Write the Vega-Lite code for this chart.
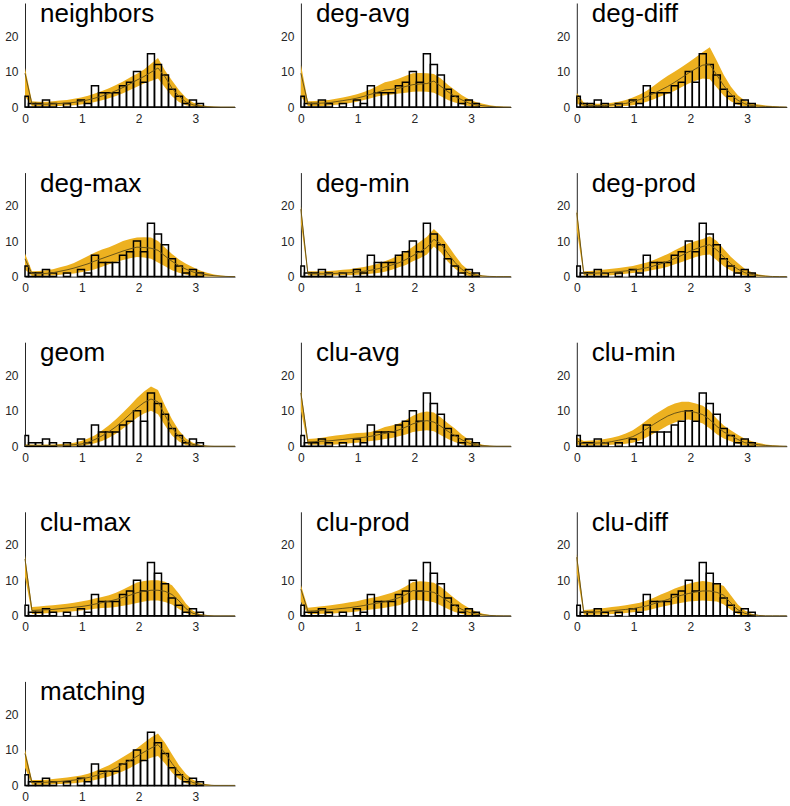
{
"$schema":"https://vega.github.io/schema/vega-lite/v6.json",
"padding":{"left":4,"top":1,"right":5,"bottom":2},
"columns":3,
"spacing":{"row":65.6,"column":65.9},
"bounds":"flush",
"datasets":{
"hist":[{"b0":0,"b1":0.062,"c":3},{"b0":0.062,"b1":0.185,"c":1},{"b0":0.185,"b1":0.308,"c":1},{"b0":0.308,"b1":0.432,"c":2},{"b0":0.432,"b1":0.555,"c":1},{"b0":0.678,"b1":0.801,"c":1},{"b0":0.925,"b1":1.048,"c":2},{"b0":1.048,"b1":1.171,"c":1},{"b0":1.171,"b1":1.295,"c":6},{"b0":1.295,"b1":1.418,"c":4},{"b0":1.418,"b1":1.541,"c":4},{"b0":1.541,"b1":1.665,"c":4},{"b0":1.665,"b1":1.788,"c":6},{"b0":1.788,"b1":1.911,"c":7},{"b0":1.911,"b1":2.035,"c":10},{"b0":2.035,"b1":2.158,"c":7},{"b0":2.158,"b1":2.281,"c":15},{"b0":2.281,"b1":2.405,"c":12},{"b0":2.405,"b1":2.528,"c":9},{"b0":2.528,"b1":2.651,"c":5},{"b0":2.651,"b1":2.774,"c":3},{"b0":2.774,"b1":2.898,"c":1},{"b0":2.898,"b1":3.021,"c":2},{"b0":3.021,"b1":3.144,"c":1}],
"band":[
{"p":"neighbors","x":0,"lo":3,"hi":11,"m":9.5},{"p":"neighbors","x":0.123,"lo":0.2,"hi":1.6,"m":0.8},{"p":"neighbors","x":0.247,"lo":0.2,"hi":1.5,"m":0.8},{"p":"neighbors","x":0.37,"lo":0.2,"hi":1.5,"m":0.8},{"p":"neighbors","x":0.493,"lo":0.3,"hi":1.6,"m":0.9},{"p":"neighbors","x":0.617,"lo":0.3,"hi":1.8,"m":1.0},{"p":"neighbors","x":0.74,"lo":0.4,"hi":2.0,"m":1.1},{"p":"neighbors","x":0.863,"lo":0.5,"hi":2.3,"m":1.3},{"p":"neighbors","x":0.987,"lo":0.7,"hi":2.7,"m":1.6},{"p":"neighbors","x":1.11,"lo":1.0,"hi":3.2,"m":2.0},{"p":"neighbors","x":1.233,"lo":1.4,"hi":3.8,"m":2.5},{"p":"neighbors","x":1.357,"lo":1.9,"hi":4.5,"m":3.1},{"p":"neighbors","x":1.48,"lo":2.5,"hi":5.3,"m":3.8},{"p":"neighbors","x":1.603,"lo":3.1,"hi":6.2,"m":4.6},{"p":"neighbors","x":1.727,"lo":3.9,"hi":7.2,"m":5.5},{"p":"neighbors","x":1.85,"lo":4.8,"hi":8.3,"m":6.5},{"p":"neighbors","x":1.973,"lo":5.7,"hi":9.4,"m":7.6},{"p":"neighbors","x":2.097,"lo":6.6,"hi":10.6,"m":8.6},{"p":"neighbors","x":2.22,"lo":7.3,"hi":12.2,"m":9.8},{"p":"neighbors","x":2.343,"lo":8.0,"hi":13.8,"m":11.0},{"p":"neighbors","x":2.467,"lo":5.5,"hi":10.3,"m":8.5},{"p":"neighbors","x":2.59,"lo":3.0,"hi":7.5,"m":5.3},{"p":"neighbors","x":2.713,"lo":1.4,"hi":4.8,"m":3.0},{"p":"neighbors","x":2.837,"lo":0.5,"hi":2.6,"m":1.4},{"p":"neighbors","x":2.96,"lo":0.1,"hi":1.3,"m":0.6},{"p":"neighbors","x":3.083,"lo":0,"hi":0.6,"m":0.25},{"p":"neighbors","x":3.207,"lo":0,"hi":0.3,"m":0.1},{"p":"neighbors","x":3.33,"lo":0,"hi":0.1,"m":0.03},{"p":"neighbors","x":3.453,"lo":0,"hi":0,"m":0},{"p":"neighbors","x":3.577,"lo":0,"hi":0,"m":0},{"p":"neighbors","x":3.7,"lo":0,"hi":0,"m":0},
{"p":"deg-avg","x":0,"lo":3,"hi":12,"m":9.5},{"p":"deg-avg","x":0.123,"lo":0.3,"hi":1.6,"m":1.0},{"p":"deg-avg","x":0.247,"lo":0.3,"hi":1.7,"m":1.0},{"p":"deg-avg","x":0.37,"lo":0.3,"hi":1.8,"m":1.1},{"p":"deg-avg","x":0.493,"lo":0.4,"hi":2.0,"m":1.2},{"p":"deg-avg","x":0.617,"lo":0.6,"hi":2.3,"m":1.5},{"p":"deg-avg","x":0.74,"lo":0.8,"hi":2.7,"m":1.8},{"p":"deg-avg","x":0.863,"lo":1.1,"hi":3.1,"m":2.1},{"p":"deg-avg","x":0.987,"lo":1.5,"hi":3.6,"m":2.5},{"p":"deg-avg","x":1.11,"lo":2.0,"hi":4.2,"m":3.0},{"p":"deg-avg","x":1.233,"lo":2.5,"hi":5.0,"m":3.6},{"p":"deg-avg","x":1.357,"lo":3.0,"hi":6.0,"m":4.2},{"p":"deg-avg","x":1.48,"lo":3.3,"hi":7.0,"m":4.8},{"p":"deg-avg","x":1.603,"lo":3.5,"hi":7.4,"m":5.0},{"p":"deg-avg","x":1.727,"lo":3.8,"hi":8.0,"m":5.3},{"p":"deg-avg","x":1.85,"lo":4.0,"hi":8.8,"m":5.8},{"p":"deg-avg","x":1.973,"lo":4.3,"hi":9.5,"m":6.3},{"p":"deg-avg","x":2.097,"lo":4.4,"hi":9.6,"m":6.5},{"p":"deg-avg","x":2.22,"lo":4.3,"hi":9.5,"m":6.6},{"p":"deg-avg","x":2.343,"lo":4.0,"hi":9.3,"m":7.3},{"p":"deg-avg","x":2.467,"lo":3.0,"hi":8.0,"m":5.8},{"p":"deg-avg","x":2.59,"lo":2.0,"hi":6.3,"m":4.3},{"p":"deg-avg","x":2.713,"lo":1.3,"hi":4.8,"m":3.0},{"p":"deg-avg","x":2.837,"lo":0.7,"hi":3.3,"m":2.0},{"p":"deg-avg","x":2.96,"lo":0.3,"hi":2.2,"m":1.1},{"p":"deg-avg","x":3.083,"lo":0.1,"hi":1.4,"m":0.6},{"p":"deg-avg","x":3.207,"lo":0,"hi":0.9,"m":0.35},{"p":"deg-avg","x":3.33,"lo":0,"hi":0.5,"m":0.15},{"p":"deg-avg","x":3.453,"lo":0,"hi":0.2,"m":0.05},{"p":"deg-avg","x":3.577,"lo":0,"hi":0.05,"m":0},{"p":"deg-avg","x":3.7,"lo":0,"hi":0,"m":0},
{"p":"deg-diff","x":0,"lo":1,"hi":4,"m":3},{"p":"deg-diff","x":0.123,"lo":0.1,"hi":1.3,"m":0.5},{"p":"deg-diff","x":0.247,"lo":0.1,"hi":1.0,"m":0.4},{"p":"deg-diff","x":0.37,"lo":0.1,"hi":0.9,"m":0.4},{"p":"deg-diff","x":0.493,"lo":0.1,"hi":1.0,"m":0.4},{"p":"deg-diff","x":0.617,"lo":0.1,"hi":1.2,"m":0.6},{"p":"deg-diff","x":0.74,"lo":0.2,"hi":1.5,"m":0.8},{"p":"deg-diff","x":0.863,"lo":0.3,"hi":2.0,"m":1.0},{"p":"deg-diff","x":0.987,"lo":0.5,"hi":2.7,"m":1.5},{"p":"deg-diff","x":1.11,"lo":0.9,"hi":3.5,"m":2.1},{"p":"deg-diff","x":1.233,"lo":1.5,"hi":4.6,"m":2.9},{"p":"deg-diff","x":1.357,"lo":2.2,"hi":6.0,"m":3.8},{"p":"deg-diff","x":1.48,"lo":3.0,"hi":7.5,"m":4.8},{"p":"deg-diff","x":1.603,"lo":3.7,"hi":8.8,"m":5.8},{"p":"deg-diff","x":1.727,"lo":4.6,"hi":10.0,"m":7.0},{"p":"deg-diff","x":1.85,"lo":5.6,"hi":11.3,"m":8.3},{"p":"deg-diff","x":1.973,"lo":6.6,"hi":12.6,"m":9.6},{"p":"deg-diff","x":2.097,"lo":7.4,"hi":14.0,"m":10.8},{"p":"deg-diff","x":2.22,"lo":8.0,"hi":15.5,"m":11.8},{"p":"deg-diff","x":2.343,"lo":7.8,"hi":16.8,"m":12.0},{"p":"deg-diff","x":2.467,"lo":5.5,"hi":13.0,"m":9.0},{"p":"deg-diff","x":2.59,"lo":3.2,"hi":9.0,"m":6.0},{"p":"deg-diff","x":2.713,"lo":1.6,"hi":5.8,"m":3.6},{"p":"deg-diff","x":2.837,"lo":0.6,"hi":3.3,"m":1.9},{"p":"deg-diff","x":2.96,"lo":0.2,"hi":1.8,"m":0.9},{"p":"deg-diff","x":3.083,"lo":0.1,"hi":1.0,"m":0.4},{"p":"deg-diff","x":3.207,"lo":0,"hi":0.7,"m":0.25},{"p":"deg-diff","x":3.33,"lo":0,"hi":0.4,"m":0.15},{"p":"deg-diff","x":3.453,"lo":0,"hi":0.25,"m":0.08},{"p":"deg-diff","x":3.577,"lo":0,"hi":0.1,"m":0.03},{"p":"deg-diff","x":3.7,"lo":0,"hi":0,"m":0},
{"p":"deg-max","x":0,"lo":2,"hi":6.5,"m":5},{"p":"deg-max","x":0.123,"lo":0.2,"hi":1.5,"m":0.8},{"p":"deg-max","x":0.247,"lo":0.2,"hi":1.6,"m":0.8},{"p":"deg-max","x":0.37,"lo":0.3,"hi":1.8,"m":0.9},{"p":"deg-max","x":0.493,"lo":0.3,"hi":2.1,"m":1.1},{"p":"deg-max","x":0.617,"lo":0.5,"hi":2.6,"m":1.5},{"p":"deg-max","x":0.74,"lo":0.7,"hi":3.1,"m":1.9},{"p":"deg-max","x":0.863,"lo":0.9,"hi":3.8,"m":2.4},{"p":"deg-max","x":0.987,"lo":1.2,"hi":4.8,"m":3.0},{"p":"deg-max","x":1.11,"lo":1.6,"hi":5.8,"m":3.6},{"p":"deg-max","x":1.233,"lo":2.1,"hi":6.8,"m":4.4},{"p":"deg-max","x":1.357,"lo":2.8,"hi":7.6,"m":5.1},{"p":"deg-max","x":1.48,"lo":3.5,"hi":8.3,"m":5.8},{"p":"deg-max","x":1.603,"lo":4.1,"hi":9.1,"m":6.5},{"p":"deg-max","x":1.727,"lo":4.7,"hi":10.0,"m":7.2},{"p":"deg-max","x":1.85,"lo":5.2,"hi":10.6,"m":7.8},{"p":"deg-max","x":1.973,"lo":5.5,"hi":11.0,"m":8.3},{"p":"deg-max","x":2.097,"lo":5.4,"hi":11.1,"m":8.2},{"p":"deg-max","x":2.22,"lo":5.0,"hi":11.0,"m":8.0},{"p":"deg-max","x":2.343,"lo":4.0,"hi":10.0,"m":7.4},{"p":"deg-max","x":2.467,"lo":2.9,"hi":8.2,"m":5.8},{"p":"deg-max","x":2.59,"lo":1.8,"hi":6.4,"m":4.3},{"p":"deg-max","x":2.713,"lo":1.1,"hi":4.8,"m":3.1},{"p":"deg-max","x":2.837,"lo":0.5,"hi":3.6,"m":2.1},{"p":"deg-max","x":2.96,"lo":0.2,"hi":2.6,"m":1.3},{"p":"deg-max","x":3.083,"lo":0.1,"hi":1.7,"m":0.8},{"p":"deg-max","x":3.207,"lo":0,"hi":1.1,"m":0.5},{"p":"deg-max","x":3.33,"lo":0,"hi":0.6,"m":0.25},{"p":"deg-max","x":3.453,"lo":0,"hi":0.3,"m":0.1},{"p":"deg-max","x":3.577,"lo":0,"hi":0.1,"m":0.03},{"p":"deg-max","x":3.7,"lo":0,"hi":0,"m":0},
{"p":"deg-min","x":0,"lo":15,"hi":20,"m":19},{"p":"deg-min","x":0.123,"lo":0.3,"hi":1.5,"m":0.8},{"p":"deg-min","x":0.247,"lo":0.3,"hi":1.5,"m":0.8},{"p":"deg-min","x":0.37,"lo":0.3,"hi":1.5,"m":0.8},{"p":"deg-min","x":0.493,"lo":0.3,"hi":1.6,"m":0.8},{"p":"deg-min","x":0.617,"lo":0.3,"hi":1.7,"m":0.9},{"p":"deg-min","x":0.74,"lo":0.4,"hi":1.9,"m":1.0},{"p":"deg-min","x":0.863,"lo":0.4,"hi":2.1,"m":1.1},{"p":"deg-min","x":0.987,"lo":0.5,"hi":2.4,"m":1.3},{"p":"deg-min","x":1.11,"lo":0.6,"hi":2.7,"m":1.5},{"p":"deg-min","x":1.233,"lo":0.8,"hi":3.1,"m":1.8},{"p":"deg-min","x":1.357,"lo":1.0,"hi":3.6,"m":2.2},{"p":"deg-min","x":1.48,"lo":1.4,"hi":4.3,"m":2.7},{"p":"deg-min","x":1.603,"lo":1.9,"hi":5.1,"m":3.3},{"p":"deg-min","x":1.727,"lo":2.6,"hi":6.0,"m":3.9},{"p":"deg-min","x":1.85,"lo":3.3,"hi":7.1,"m":4.8},{"p":"deg-min","x":1.973,"lo":4.3,"hi":8.4,"m":5.9},{"p":"deg-min","x":2.097,"lo":5.2,"hi":9.8,"m":7.0},{"p":"deg-min","x":2.22,"lo":6.2,"hi":11.2,"m":8.2},{"p":"deg-min","x":2.343,"lo":8.5,"hi":13.4,"m":10.5},{"p":"deg-min","x":2.467,"lo":6.8,"hi":11.5,"m":9.2},{"p":"deg-min","x":2.59,"lo":4.2,"hi":8.8,"m":6.5},{"p":"deg-min","x":2.713,"lo":2.3,"hi":6.0,"m":4.0},{"p":"deg-min","x":2.837,"lo":0.8,"hi":3.4,"m":2.0},{"p":"deg-min","x":2.96,"lo":0.2,"hi":1.7,"m":0.9},{"p":"deg-min","x":3.083,"lo":0.05,"hi":0.8,"m":0.4},{"p":"deg-min","x":3.207,"lo":0,"hi":0.3,"m":0.15},{"p":"deg-min","x":3.33,"lo":0,"hi":0.1,"m":0.05},{"p":"deg-min","x":3.453,"lo":0,"hi":0,"m":0},{"p":"deg-min","x":3.577,"lo":0,"hi":0,"m":0},{"p":"deg-min","x":3.7,"lo":0,"hi":0,"m":0},
{"p":"deg-prod","x":0,"lo":13,"hi":19,"m":18},{"p":"deg-prod","x":0.123,"lo":0.3,"hi":1.5,"m":0.8},{"p":"deg-prod","x":0.247,"lo":0.3,"hi":1.6,"m":0.9},{"p":"deg-prod","x":0.37,"lo":0.3,"hi":1.8,"m":1.0},{"p":"deg-prod","x":0.493,"lo":0.3,"hi":2.0,"m":1.1},{"p":"deg-prod","x":0.617,"lo":0.4,"hi":2.2,"m":1.2},{"p":"deg-prod","x":0.74,"lo":0.6,"hi":2.4,"m":1.4},{"p":"deg-prod","x":0.863,"lo":0.8,"hi":2.7,"m":1.6},{"p":"deg-prod","x":0.987,"lo":1.0,"hi":3.0,"m":1.8},{"p":"deg-prod","x":1.11,"lo":1.2,"hi":3.5,"m":2.1},{"p":"deg-prod","x":1.233,"lo":1.5,"hi":4.0,"m":2.5},{"p":"deg-prod","x":1.357,"lo":1.9,"hi":4.7,"m":3.0},{"p":"deg-prod","x":1.48,"lo":2.3,"hi":5.5,"m":3.6},{"p":"deg-prod","x":1.603,"lo":2.8,"hi":6.4,"m":4.3},{"p":"deg-prod","x":1.727,"lo":3.5,"hi":7.4,"m":5.1},{"p":"deg-prod","x":1.85,"lo":4.1,"hi":8.4,"m":6.0},{"p":"deg-prod","x":1.973,"lo":4.8,"hi":9.4,"m":7.0},{"p":"deg-prod","x":2.097,"lo":5.5,"hi":10.0,"m":7.8},{"p":"deg-prod","x":2.22,"lo":6.0,"hi":10.6,"m":8.5},{"p":"deg-prod","x":2.343,"lo":6.2,"hi":11.4,"m":9.0},{"p":"deg-prod","x":2.467,"lo":4.6,"hi":10.0,"m":7.5},{"p":"deg-prod","x":2.59,"lo":2.9,"hi":7.8,"m":5.5},{"p":"deg-prod","x":2.713,"lo":1.7,"hi":5.6,"m":3.6},{"p":"deg-prod","x":2.837,"lo":0.8,"hi":3.8,"m":2.1},{"p":"deg-prod","x":2.96,"lo":0.3,"hi":2.2,"m":1.1},{"p":"deg-prod","x":3.083,"lo":0.1,"hi":1.2,"m":0.6},{"p":"deg-prod","x":3.207,"lo":0,"hi":0.6,"m":0.3},{"p":"deg-prod","x":3.33,"lo":0,"hi":0.3,"m":0.1},{"p":"deg-prod","x":3.453,"lo":0,"hi":0.1,"m":0.03},{"p":"deg-prod","x":3.577,"lo":0,"hi":0,"m":0},{"p":"deg-prod","x":3.7,"lo":0,"hi":0,"m":0},
{"p":"geom","x":0,"lo":0,"hi":0.5,"m":0.25},{"p":"geom","x":0.123,"lo":0,"hi":0.5,"m":0.2},{"p":"geom","x":0.247,"lo":0,"hi":0.5,"m":0.2},{"p":"geom","x":0.37,"lo":0,"hi":0.5,"m":0.2},{"p":"geom","x":0.493,"lo":0,"hi":0.5,"m":0.2},{"p":"geom","x":0.617,"lo":0,"hi":0.6,"m":0.25},{"p":"geom","x":0.74,"lo":0,"hi":0.7,"m":0.3},{"p":"geom","x":0.863,"lo":0.05,"hi":1.0,"m":0.4},{"p":"geom","x":0.987,"lo":0.1,"hi":1.5,"m":0.6},{"p":"geom","x":1.11,"lo":0.4,"hi":2.2,"m":1.1},{"p":"geom","x":1.233,"lo":0.8,"hi":3.1,"m":1.9},{"p":"geom","x":1.357,"lo":1.5,"hi":4.4,"m":2.9},{"p":"geom","x":1.48,"lo":2.4,"hi":5.9,"m":4.1},{"p":"geom","x":1.603,"lo":3.5,"hi":7.6,"m":5.5},{"p":"geom","x":1.727,"lo":5.0,"hi":9.5,"m":7.2},{"p":"geom","x":1.85,"lo":6.5,"hi":11.5,"m":9.0},{"p":"geom","x":1.973,"lo":8.0,"hi":13.6,"m":10.8},{"p":"geom","x":2.097,"lo":9.2,"hi":15.4,"m":12.3},{"p":"geom","x":2.22,"lo":10.0,"hi":16.8,"m":13.3},{"p":"geom","x":2.343,"lo":9.0,"hi":15.8,"m":12.5},{"p":"geom","x":2.467,"lo":5.8,"hi":11.5,"m":8.7},{"p":"geom","x":2.59,"lo":3.0,"hi":7.6,"m":5.2},{"p":"geom","x":2.713,"lo":1.3,"hi":4.4,"m":2.7},{"p":"geom","x":2.837,"lo":0.3,"hi":2.2,"m":1.2},{"p":"geom","x":2.96,"lo":0.05,"hi":1.0,"m":0.5},{"p":"geom","x":3.083,"lo":0,"hi":0.4,"m":0.2},{"p":"geom","x":3.207,"lo":0,"hi":0.15,"m":0.05},{"p":"geom","x":3.33,"lo":0,"hi":0,"m":0},{"p":"geom","x":3.453,"lo":0,"hi":0,"m":0},{"p":"geom","x":3.577,"lo":0,"hi":0,"m":0},{"p":"geom","x":3.7,"lo":0,"hi":0,"m":0},
{"p":"clu-avg","x":0,"lo":10,"hi":16,"m":15},{"p":"clu-avg","x":0.123,"lo":0.4,"hi":2.0,"m":1.2},{"p":"clu-avg","x":0.247,"lo":0.4,"hi":2.2,"m":1.3},{"p":"clu-avg","x":0.37,"lo":0.4,"hi":2.4,"m":1.4},{"p":"clu-avg","x":0.493,"lo":0.4,"hi":2.7,"m":1.5},{"p":"clu-avg","x":0.617,"lo":0.5,"hi":3.0,"m":1.7},{"p":"clu-avg","x":0.74,"lo":0.6,"hi":3.2,"m":1.9},{"p":"clu-avg","x":0.863,"lo":0.8,"hi":3.5,"m":2.1},{"p":"clu-avg","x":0.987,"lo":1.0,"hi":3.7,"m":2.3},{"p":"clu-avg","x":1.11,"lo":1.2,"hi":3.8,"m":2.5},{"p":"clu-avg","x":1.233,"lo":1.5,"hi":4.0,"m":2.8},{"p":"clu-avg","x":1.357,"lo":1.7,"hi":4.6,"m":3.2},{"p":"clu-avg","x":1.48,"lo":2.0,"hi":5.4,"m":3.6},{"p":"clu-avg","x":1.603,"lo":2.3,"hi":5.8,"m":4.0},{"p":"clu-avg","x":1.727,"lo":2.8,"hi":6.4,"m":4.6},{"p":"clu-avg","x":1.85,"lo":3.3,"hi":7.4,"m":5.4},{"p":"clu-avg","x":1.973,"lo":4.0,"hi":8.6,"m":6.3},{"p":"clu-avg","x":2.097,"lo":4.3,"hi":9.4,"m":6.9},{"p":"clu-avg","x":2.22,"lo":4.5,"hi":9.8,"m":7.2},{"p":"clu-avg","x":2.343,"lo":4.2,"hi":9.5,"m":6.8},{"p":"clu-avg","x":2.467,"lo":3.1,"hi":8.1,"m":5.6},{"p":"clu-avg","x":2.59,"lo":2.0,"hi":6.5,"m":4.2},{"p":"clu-avg","x":2.713,"lo":1.2,"hi":5.0,"m":3.0},{"p":"clu-avg","x":2.837,"lo":0.5,"hi":3.2,"m":1.8},{"p":"clu-avg","x":2.96,"lo":0.1,"hi":1.8,"m":0.9},{"p":"clu-avg","x":3.083,"lo":0,"hi":0.9,"m":0.4},{"p":"clu-avg","x":3.207,"lo":0,"hi":0.4,"m":0.15},{"p":"clu-avg","x":3.33,"lo":0,"hi":0.1,"m":0.05},{"p":"clu-avg","x":3.453,"lo":0,"hi":0,"m":0},{"p":"clu-avg","x":3.577,"lo":0,"hi":0,"m":0},{"p":"clu-avg","x":3.7,"lo":0,"hi":0,"m":0},
{"p":"clu-min","x":0,"lo":0.5,"hi":2.5,"m":1.5},{"p":"clu-min","x":0.123,"lo":0.2,"hi":1.5,"m":0.8},{"p":"clu-min","x":0.247,"lo":0.2,"hi":1.6,"m":0.8},{"p":"clu-min","x":0.37,"lo":0.2,"hi":1.7,"m":0.9},{"p":"clu-min","x":0.493,"lo":0.3,"hi":2.0,"m":1.0},{"p":"clu-min","x":0.617,"lo":0.4,"hi":2.4,"m":1.3},{"p":"clu-min","x":0.74,"lo":0.5,"hi":2.9,"m":1.7},{"p":"clu-min","x":0.863,"lo":0.7,"hi":3.6,"m":2.1},{"p":"clu-min","x":0.987,"lo":1.0,"hi":4.5,"m":2.7},{"p":"clu-min","x":1.11,"lo":1.6,"hi":5.8,"m":3.7},{"p":"clu-min","x":1.233,"lo":2.5,"hi":7.3,"m":4.9},{"p":"clu-min","x":1.357,"lo":3.6,"hi":8.8,"m":6.2},{"p":"clu-min","x":1.48,"lo":4.7,"hi":10.0,"m":7.4},{"p":"clu-min","x":1.603,"lo":5.8,"hi":11.2,"m":8.5},{"p":"clu-min","x":1.727,"lo":6.7,"hi":12.0,"m":9.3},{"p":"clu-min","x":1.85,"lo":7.3,"hi":12.5,"m":9.8},{"p":"clu-min","x":1.973,"lo":7.5,"hi":12.5,"m":10.0},{"p":"clu-min","x":2.097,"lo":7.0,"hi":12.0,"m":9.5},{"p":"clu-min","x":2.22,"lo":6.4,"hi":11.4,"m":8.9},{"p":"clu-min","x":2.343,"lo":5.0,"hi":10.0,"m":7.5},{"p":"clu-min","x":2.467,"lo":3.4,"hi":7.7,"m":5.6},{"p":"clu-min","x":2.59,"lo":2.2,"hi":5.8,"m":4.0},{"p":"clu-min","x":2.713,"lo":1.4,"hi":4.5,"m":3.0},{"p":"clu-min","x":2.837,"lo":0.7,"hi":3.2,"m":1.9},{"p":"clu-min","x":2.96,"lo":0.2,"hi":2.1,"m":1.0},{"p":"clu-min","x":3.083,"lo":0.05,"hi":1.4,"m":0.6},{"p":"clu-min","x":3.207,"lo":0,"hi":0.9,"m":0.4},{"p":"clu-min","x":3.33,"lo":0,"hi":0.5,"m":0.2},{"p":"clu-min","x":3.453,"lo":0,"hi":0.25,"m":0.08},{"p":"clu-min","x":3.577,"lo":0,"hi":0.1,"m":0.02},{"p":"clu-min","x":3.7,"lo":0,"hi":0,"m":0},
{"p":"clu-max","x":0,"lo":11,"hi":17,"m":16},{"p":"clu-max","x":0.123,"lo":0.5,"hi":2.5,"m":1.5},{"p":"clu-max","x":0.247,"lo":0.6,"hi":2.6,"m":1.6},{"p":"clu-max","x":0.37,"lo":0.7,"hi":2.8,"m":1.7},{"p":"clu-max","x":0.493,"lo":0.8,"hi":3.0,"m":1.8},{"p":"clu-max","x":0.617,"lo":1.0,"hi":3.2,"m":2.0},{"p":"clu-max","x":0.74,"lo":1.1,"hi":3.4,"m":2.2},{"p":"clu-max","x":0.863,"lo":1.3,"hi":3.7,"m":2.4},{"p":"clu-max","x":0.987,"lo":1.5,"hi":4.0,"m":2.6},{"p":"clu-max","x":1.11,"lo":1.7,"hi":4.4,"m":2.9},{"p":"clu-max","x":1.233,"lo":2.0,"hi":4.9,"m":3.3},{"p":"clu-max","x":1.357,"lo":2.2,"hi":5.3,"m":3.7},{"p":"clu-max","x":1.48,"lo":2.3,"hi":5.8,"m":4.1},{"p":"clu-max","x":1.603,"lo":2.5,"hi":6.5,"m":4.6},{"p":"clu-max","x":1.727,"lo":2.8,"hi":7.4,"m":5.2},{"p":"clu-max","x":1.85,"lo":3.2,"hi":8.4,"m":5.8},{"p":"clu-max","x":1.973,"lo":3.6,"hi":9.4,"m":6.5},{"p":"clu-max","x":2.097,"lo":4.0,"hi":9.8,"m":6.9},{"p":"clu-max","x":2.22,"lo":4.3,"hi":10.0,"m":7.2},{"p":"clu-max","x":2.343,"lo":4.3,"hi":10.0,"m":7.2},{"p":"clu-max","x":2.467,"lo":3.9,"hi":9.6,"m":6.9},{"p":"clu-max","x":2.59,"lo":3.2,"hi":8.6,"m":6.0},{"p":"clu-max","x":2.713,"lo":1.9,"hi":6.2,"m":4.2},{"p":"clu-max","x":2.837,"lo":0.7,"hi":3.4,"m":2.0},{"p":"clu-max","x":2.96,"lo":0.15,"hi":1.4,"m":0.7},{"p":"clu-max","x":3.083,"lo":0,"hi":0.5,"m":0.25},{"p":"clu-max","x":3.207,"lo":0,"hi":0.2,"m":0.08},{"p":"clu-max","x":3.33,"lo":0,"hi":0,"m":0},{"p":"clu-max","x":3.453,"lo":0,"hi":0,"m":0},{"p":"clu-max","x":3.577,"lo":0,"hi":0,"m":0},{"p":"clu-max","x":3.7,"lo":0,"hi":0,"m":0},
{"p":"clu-prod","x":0,"lo":4,"hi":8.7,"m":7.5},{"p":"clu-prod","x":0.123,"lo":0.5,"hi":2.3,"m":1.3},{"p":"clu-prod","x":0.247,"lo":0.5,"hi":2.5,"m":1.4},{"p":"clu-prod","x":0.37,"lo":0.6,"hi":2.7,"m":1.6},{"p":"clu-prod","x":0.493,"lo":0.6,"hi":2.9,"m":1.7},{"p":"clu-prod","x":0.617,"lo":0.7,"hi":3.2,"m":1.9},{"p":"clu-prod","x":0.74,"lo":0.9,"hi":3.5,"m":2.1},{"p":"clu-prod","x":0.863,"lo":1.0,"hi":3.8,"m":2.3},{"p":"clu-prod","x":0.987,"lo":1.2,"hi":4.1,"m":2.6},{"p":"clu-prod","x":1.11,"lo":1.5,"hi":4.6,"m":2.9},{"p":"clu-prod","x":1.233,"lo":1.8,"hi":5.0,"m":3.3},{"p":"clu-prod","x":1.357,"lo":2.0,"hi":5.4,"m":3.6},{"p":"clu-prod","x":1.48,"lo":2.3,"hi":5.9,"m":4.0},{"p":"clu-prod","x":1.603,"lo":2.6,"hi":6.5,"m":4.5},{"p":"clu-prod","x":1.727,"lo":3.0,"hi":7.3,"m":5.1},{"p":"clu-prod","x":1.85,"lo":3.7,"hi":8.3,"m":6.0},{"p":"clu-prod","x":1.973,"lo":4.5,"hi":9.5,"m":7.1},{"p":"clu-prod","x":2.097,"lo":4.4,"hi":9.7,"m":7.0},{"p":"clu-prod","x":2.22,"lo":4.2,"hi":9.6,"m":6.9},{"p":"clu-prod","x":2.343,"lo":3.8,"hi":9.3,"m":6.6},{"p":"clu-prod","x":2.467,"lo":2.9,"hi":8.1,"m":5.4},{"p":"clu-prod","x":2.59,"lo":1.9,"hi":6.5,"m":4.1},{"p":"clu-prod","x":2.713,"lo":1.1,"hi":4.9,"m":2.9},{"p":"clu-prod","x":2.837,"lo":0.5,"hi":3.4,"m":1.8},{"p":"clu-prod","x":2.96,"lo":0.15,"hi":2.2,"m":1.0},{"p":"clu-prod","x":3.083,"lo":0.05,"hi":1.2,"m":0.5},{"p":"clu-prod","x":3.207,"lo":0,"hi":0.6,"m":0.25},{"p":"clu-prod","x":3.33,"lo":0,"hi":0.25,"m":0.1},{"p":"clu-prod","x":3.453,"lo":0,"hi":0.05,"m":0.02},{"p":"clu-prod","x":3.577,"lo":0,"hi":0,"m":0},{"p":"clu-prod","x":3.7,"lo":0,"hi":0,"m":0},
{"p":"clu-diff","x":0,"lo":12,"hi":17.5,"m":16.5},{"p":"clu-diff","x":0.123,"lo":0.3,"hi":1.6,"m":0.9},{"p":"clu-diff","x":0.247,"lo":0.3,"hi":1.8,"m":1.0},{"p":"clu-diff","x":0.37,"lo":0.3,"hi":2.0,"m":1.1},{"p":"clu-diff","x":0.493,"lo":0.4,"hi":2.2,"m":1.2},{"p":"clu-diff","x":0.617,"lo":0.5,"hi":2.5,"m":1.4},{"p":"clu-diff","x":0.74,"lo":0.6,"hi":2.7,"m":1.6},{"p":"clu-diff","x":0.863,"lo":0.8,"hi":3.0,"m":1.8},{"p":"clu-diff","x":0.987,"lo":1.0,"hi":3.3,"m":2.0},{"p":"clu-diff","x":1.11,"lo":1.2,"hi":3.7,"m":2.4},{"p":"clu-diff","x":1.233,"lo":1.5,"hi":4.3,"m":2.8},{"p":"clu-diff","x":1.357,"lo":2.0,"hi":5.1,"m":3.4},{"p":"clu-diff","x":1.48,"lo":2.5,"hi":6.0,"m":4.0},{"p":"clu-diff","x":1.603,"lo":2.9,"hi":6.8,"m":4.6},{"p":"clu-diff","x":1.727,"lo":3.3,"hi":7.7,"m":5.3},{"p":"clu-diff","x":1.85,"lo":3.7,"hi":8.4,"m":5.8},{"p":"clu-diff","x":1.973,"lo":4.0,"hi":9.0,"m":6.3},{"p":"clu-diff","x":2.097,"lo":4.2,"hi":9.5,"m":6.7},{"p":"clu-diff","x":2.22,"lo":4.3,"hi":9.8,"m":7.0},{"p":"clu-diff","x":2.343,"lo":4.2,"hi":9.5,"m":7.0},{"p":"clu-diff","x":2.467,"lo":4.0,"hi":9.1,"m":6.6},{"p":"clu-diff","x":2.59,"lo":3.2,"hi":8.4,"m":5.8},{"p":"clu-diff","x":2.713,"lo":1.7,"hi":5.8,"m":3.6},{"p":"clu-diff","x":2.837,"lo":0.5,"hi":3.2,"m":1.7},{"p":"clu-diff","x":2.96,"lo":0.1,"hi":1.5,"m":0.7},{"p":"clu-diff","x":3.083,"lo":0,"hi":0.6,"m":0.3},{"p":"clu-diff","x":3.207,"lo":0,"hi":0.2,"m":0.1},{"p":"clu-diff","x":3.33,"lo":0,"hi":0,"m":0},{"p":"clu-diff","x":3.453,"lo":0,"hi":0,"m":0},{"p":"clu-diff","x":3.577,"lo":0,"hi":0,"m":0},{"p":"clu-diff","x":3.7,"lo":0,"hi":0,"m":0},
{"p":"matching","x":0,"lo":5,"hi":10.2,"m":9},{"p":"matching","x":0.123,"lo":0.2,"hi":1.5,"m":0.8},{"p":"matching","x":0.247,"lo":0.2,"hi":1.5,"m":0.8},{"p":"matching","x":0.37,"lo":0.2,"hi":1.6,"m":0.9},{"p":"matching","x":0.493,"lo":0.3,"hi":1.8,"m":1.0},{"p":"matching","x":0.617,"lo":0.4,"hi":2.0,"m":1.1},{"p":"matching","x":0.74,"lo":0.5,"hi":2.2,"m":1.3},{"p":"matching","x":0.863,"lo":0.6,"hi":2.5,"m":1.5},{"p":"matching","x":0.987,"lo":0.8,"hi":2.8,"m":1.8},{"p":"matching","x":1.11,"lo":1.1,"hi":3.3,"m":2.2},{"p":"matching","x":1.233,"lo":1.5,"hi":4.0,"m":2.7},{"p":"matching","x":1.357,"lo":2.0,"hi":4.8,"m":3.3},{"p":"matching","x":1.48,"lo":2.5,"hi":5.7,"m":4.0},{"p":"matching","x":1.603,"lo":3.2,"hi":6.8,"m":4.9},{"p":"matching","x":1.727,"lo":4.0,"hi":8.0,"m":6.0},{"p":"matching","x":1.85,"lo":4.9,"hi":9.2,"m":7.0},{"p":"matching","x":1.973,"lo":6.0,"hi":10.5,"m":8.2},{"p":"matching","x":2.097,"lo":7.0,"hi":12.0,"m":9.4},{"p":"matching","x":2.22,"lo":7.8,"hi":13.5,"m":10.5},{"p":"matching","x":2.343,"lo":8.3,"hi":14.6,"m":11.5},{"p":"matching","x":2.467,"lo":6.2,"hi":12.0,"m":9.1},{"p":"matching","x":2.59,"lo":3.6,"hi":8.8,"m":6.2},{"p":"matching","x":2.713,"lo":1.8,"hi":5.7,"m":3.7},{"p":"matching","x":2.837,"lo":0.6,"hi":3.2,"m":1.8},{"p":"matching","x":2.96,"lo":0.1,"hi":1.6,"m":0.8},{"p":"matching","x":3.083,"lo":0,"hi":0.7,"m":0.3},{"p":"matching","x":3.207,"lo":0,"hi":0.3,"m":0.1},{"p":"matching","x":3.33,"lo":0,"hi":0,"m":0},{"p":"matching","x":3.453,"lo":0,"hi":0,"m":0},{"p":"matching","x":3.577,"lo":0,"hi":0,"m":0},{"p":"matching","x":3.7,"lo":0,"hi":0,"m":0}
]},
"concat":[
{"title":"neighbors","width":210,"height":104,"layer":[
{"data":{"name":"hist"},"mark":{"type":"rect","fill":"white","strokeWidth":0},"encoding":{"x":{"field":"b0","type":"quantitative","scale":{"domain":[0,3.7],"nice":false},"axis":{"values":[0,1,2,3],"format":"d"},"title":null},"x2":{"field":"b1"},"y":{"field":"c","type":"quantitative","scale":{"domain":[0,29.3],"nice":false},"axis":{"values":[0,10,20],"format":"d"},"title":null},"y2":{"datum":0}}},
{"data":{"name":"band"},"transform":[{"filter":"datum.p==='neighbors'"}],"mark":{"type":"area","color":"#EDB120","opacity":1},"encoding":{"x":{"field":"x","type":"quantitative","title":null},"y":{"field":"lo","type":"quantitative","title":null},"y2":{"field":"hi"}}},
{"data":{"name":"hist"},"mark":{"type":"rect","fill":"white","fillOpacity":0,"stroke":"black","strokeWidth":1.5},"encoding":{"x":{"field":"b0","type":"quantitative","title":null},"x2":{"field":"b1"},"y":{"field":"c","type":"quantitative","title":null},"y2":{"datum":0}}},
{"data":{"name":"band"},"transform":[{"filter":"datum.p==='neighbors'"}],"mark":{"type":"line","color":"#6a5418","strokeWidth":1},"encoding":{"x":{"field":"x","type":"quantitative","title":null},"y":{"field":"m","type":"quantitative","title":null}}}]},
{"title":"deg-avg","width":210,"height":104,"layer":[
{"data":{"name":"hist"},"mark":{"type":"rect","fill":"white","strokeWidth":0},"encoding":{"x":{"field":"b0","type":"quantitative","scale":{"domain":[0,3.7],"nice":false},"axis":{"values":[0,1,2,3],"format":"d"},"title":null},"x2":{"field":"b1"},"y":{"field":"c","type":"quantitative","scale":{"domain":[0,29.3],"nice":false},"axis":{"values":[0,10,20],"format":"d"},"title":null},"y2":{"datum":0}}},
{"data":{"name":"band"},"transform":[{"filter":"datum.p==='deg-avg'"}],"mark":{"type":"area","color":"#EDB120","opacity":1},"encoding":{"x":{"field":"x","type":"quantitative","title":null},"y":{"field":"lo","type":"quantitative","title":null},"y2":{"field":"hi"}}},
{"data":{"name":"hist"},"mark":{"type":"rect","fill":"white","fillOpacity":0,"stroke":"black","strokeWidth":1.5},"encoding":{"x":{"field":"b0","type":"quantitative","title":null},"x2":{"field":"b1"},"y":{"field":"c","type":"quantitative","title":null},"y2":{"datum":0}}},
{"data":{"name":"band"},"transform":[{"filter":"datum.p==='deg-avg'"}],"mark":{"type":"line","color":"#6a5418","strokeWidth":1},"encoding":{"x":{"field":"x","type":"quantitative","title":null},"y":{"field":"m","type":"quantitative","title":null}}}]},
{"title":"deg-diff","width":210,"height":104,"layer":[
{"data":{"name":"hist"},"mark":{"type":"rect","fill":"white","strokeWidth":0},"encoding":{"x":{"field":"b0","type":"quantitative","scale":{"domain":[0,3.7],"nice":false},"axis":{"values":[0,1,2,3],"format":"d"},"title":null},"x2":{"field":"b1"},"y":{"field":"c","type":"quantitative","scale":{"domain":[0,29.3],"nice":false},"axis":{"values":[0,10,20],"format":"d"},"title":null},"y2":{"datum":0}}},
{"data":{"name":"band"},"transform":[{"filter":"datum.p==='deg-diff'"}],"mark":{"type":"area","color":"#EDB120","opacity":1},"encoding":{"x":{"field":"x","type":"quantitative","title":null},"y":{"field":"lo","type":"quantitative","title":null},"y2":{"field":"hi"}}},
{"data":{"name":"hist"},"mark":{"type":"rect","fill":"white","fillOpacity":0,"stroke":"black","strokeWidth":1.5},"encoding":{"x":{"field":"b0","type":"quantitative","title":null},"x2":{"field":"b1"},"y":{"field":"c","type":"quantitative","title":null},"y2":{"datum":0}}},
{"data":{"name":"band"},"transform":[{"filter":"datum.p==='deg-diff'"}],"mark":{"type":"line","color":"#6a5418","strokeWidth":1},"encoding":{"x":{"field":"x","type":"quantitative","title":null},"y":{"field":"m","type":"quantitative","title":null}}}]},
{"title":"deg-max","width":210,"height":104,"layer":[
{"data":{"name":"hist"},"mark":{"type":"rect","fill":"white","strokeWidth":0},"encoding":{"x":{"field":"b0","type":"quantitative","scale":{"domain":[0,3.7],"nice":false},"axis":{"values":[0,1,2,3],"format":"d"},"title":null},"x2":{"field":"b1"},"y":{"field":"c","type":"quantitative","scale":{"domain":[0,29.3],"nice":false},"axis":{"values":[0,10,20],"format":"d"},"title":null},"y2":{"datum":0}}},
{"data":{"name":"band"},"transform":[{"filter":"datum.p==='deg-max'"}],"mark":{"type":"area","color":"#EDB120","opacity":1},"encoding":{"x":{"field":"x","type":"quantitative","title":null},"y":{"field":"lo","type":"quantitative","title":null},"y2":{"field":"hi"}}},
{"data":{"name":"hist"},"mark":{"type":"rect","fill":"white","fillOpacity":0,"stroke":"black","strokeWidth":1.5},"encoding":{"x":{"field":"b0","type":"quantitative","title":null},"x2":{"field":"b1"},"y":{"field":"c","type":"quantitative","title":null},"y2":{"datum":0}}},
{"data":{"name":"band"},"transform":[{"filter":"datum.p==='deg-max'"}],"mark":{"type":"line","color":"#6a5418","strokeWidth":1},"encoding":{"x":{"field":"x","type":"quantitative","title":null},"y":{"field":"m","type":"quantitative","title":null}}}]},
{"title":"deg-min","width":210,"height":104,"layer":[
{"data":{"name":"hist"},"mark":{"type":"rect","fill":"white","strokeWidth":0},"encoding":{"x":{"field":"b0","type":"quantitative","scale":{"domain":[0,3.7],"nice":false},"axis":{"values":[0,1,2,3],"format":"d"},"title":null},"x2":{"field":"b1"},"y":{"field":"c","type":"quantitative","scale":{"domain":[0,29.3],"nice":false},"axis":{"values":[0,10,20],"format":"d"},"title":null},"y2":{"datum":0}}},
{"data":{"name":"band"},"transform":[{"filter":"datum.p==='deg-min'"}],"mark":{"type":"area","color":"#EDB120","opacity":1},"encoding":{"x":{"field":"x","type":"quantitative","title":null},"y":{"field":"lo","type":"quantitative","title":null},"y2":{"field":"hi"}}},
{"data":{"name":"hist"},"mark":{"type":"rect","fill":"white","fillOpacity":0,"stroke":"black","strokeWidth":1.5},"encoding":{"x":{"field":"b0","type":"quantitative","title":null},"x2":{"field":"b1"},"y":{"field":"c","type":"quantitative","title":null},"y2":{"datum":0}}},
{"data":{"name":"band"},"transform":[{"filter":"datum.p==='deg-min'"}],"mark":{"type":"line","color":"#6a5418","strokeWidth":1},"encoding":{"x":{"field":"x","type":"quantitative","title":null},"y":{"field":"m","type":"quantitative","title":null}}}]},
{"title":"deg-prod","width":210,"height":104,"layer":[
{"data":{"name":"hist"},"mark":{"type":"rect","fill":"white","strokeWidth":0},"encoding":{"x":{"field":"b0","type":"quantitative","scale":{"domain":[0,3.7],"nice":false},"axis":{"values":[0,1,2,3],"format":"d"},"title":null},"x2":{"field":"b1"},"y":{"field":"c","type":"quantitative","scale":{"domain":[0,29.3],"nice":false},"axis":{"values":[0,10,20],"format":"d"},"title":null},"y2":{"datum":0}}},
{"data":{"name":"band"},"transform":[{"filter":"datum.p==='deg-prod'"}],"mark":{"type":"area","color":"#EDB120","opacity":1},"encoding":{"x":{"field":"x","type":"quantitative","title":null},"y":{"field":"lo","type":"quantitative","title":null},"y2":{"field":"hi"}}},
{"data":{"name":"hist"},"mark":{"type":"rect","fill":"white","fillOpacity":0,"stroke":"black","strokeWidth":1.5},"encoding":{"x":{"field":"b0","type":"quantitative","title":null},"x2":{"field":"b1"},"y":{"field":"c","type":"quantitative","title":null},"y2":{"datum":0}}},
{"data":{"name":"band"},"transform":[{"filter":"datum.p==='deg-prod'"}],"mark":{"type":"line","color":"#6a5418","strokeWidth":1},"encoding":{"x":{"field":"x","type":"quantitative","title":null},"y":{"field":"m","type":"quantitative","title":null}}}]},
{"title":"geom","width":210,"height":104,"layer":[
{"data":{"name":"hist"},"mark":{"type":"rect","fill":"white","strokeWidth":0},"encoding":{"x":{"field":"b0","type":"quantitative","scale":{"domain":[0,3.7],"nice":false},"axis":{"values":[0,1,2,3],"format":"d"},"title":null},"x2":{"field":"b1"},"y":{"field":"c","type":"quantitative","scale":{"domain":[0,29.3],"nice":false},"axis":{"values":[0,10,20],"format":"d"},"title":null},"y2":{"datum":0}}},
{"data":{"name":"band"},"transform":[{"filter":"datum.p==='geom'"}],"mark":{"type":"area","color":"#EDB120","opacity":1},"encoding":{"x":{"field":"x","type":"quantitative","title":null},"y":{"field":"lo","type":"quantitative","title":null},"y2":{"field":"hi"}}},
{"data":{"name":"hist"},"mark":{"type":"rect","fill":"white","fillOpacity":0,"stroke":"black","strokeWidth":1.5},"encoding":{"x":{"field":"b0","type":"quantitative","title":null},"x2":{"field":"b1"},"y":{"field":"c","type":"quantitative","title":null},"y2":{"datum":0}}},
{"data":{"name":"band"},"transform":[{"filter":"datum.p==='geom'"}],"mark":{"type":"line","color":"#6a5418","strokeWidth":1},"encoding":{"x":{"field":"x","type":"quantitative","title":null},"y":{"field":"m","type":"quantitative","title":null}}}]},
{"title":"clu-avg","width":210,"height":104,"layer":[
{"data":{"name":"hist"},"mark":{"type":"rect","fill":"white","strokeWidth":0},"encoding":{"x":{"field":"b0","type":"quantitative","scale":{"domain":[0,3.7],"nice":false},"axis":{"values":[0,1,2,3],"format":"d"},"title":null},"x2":{"field":"b1"},"y":{"field":"c","type":"quantitative","scale":{"domain":[0,29.3],"nice":false},"axis":{"values":[0,10,20],"format":"d"},"title":null},"y2":{"datum":0}}},
{"data":{"name":"band"},"transform":[{"filter":"datum.p==='clu-avg'"}],"mark":{"type":"area","color":"#EDB120","opacity":1},"encoding":{"x":{"field":"x","type":"quantitative","title":null},"y":{"field":"lo","type":"quantitative","title":null},"y2":{"field":"hi"}}},
{"data":{"name":"hist"},"mark":{"type":"rect","fill":"white","fillOpacity":0,"stroke":"black","strokeWidth":1.5},"encoding":{"x":{"field":"b0","type":"quantitative","title":null},"x2":{"field":"b1"},"y":{"field":"c","type":"quantitative","title":null},"y2":{"datum":0}}},
{"data":{"name":"band"},"transform":[{"filter":"datum.p==='clu-avg'"}],"mark":{"type":"line","color":"#6a5418","strokeWidth":1},"encoding":{"x":{"field":"x","type":"quantitative","title":null},"y":{"field":"m","type":"quantitative","title":null}}}]},
{"title":"clu-min","width":210,"height":104,"layer":[
{"data":{"name":"hist"},"mark":{"type":"rect","fill":"white","strokeWidth":0},"encoding":{"x":{"field":"b0","type":"quantitative","scale":{"domain":[0,3.7],"nice":false},"axis":{"values":[0,1,2,3],"format":"d"},"title":null},"x2":{"field":"b1"},"y":{"field":"c","type":"quantitative","scale":{"domain":[0,29.3],"nice":false},"axis":{"values":[0,10,20],"format":"d"},"title":null},"y2":{"datum":0}}},
{"data":{"name":"band"},"transform":[{"filter":"datum.p==='clu-min'"}],"mark":{"type":"area","color":"#EDB120","opacity":1},"encoding":{"x":{"field":"x","type":"quantitative","title":null},"y":{"field":"lo","type":"quantitative","title":null},"y2":{"field":"hi"}}},
{"data":{"name":"hist"},"mark":{"type":"rect","fill":"white","fillOpacity":0,"stroke":"black","strokeWidth":1.5},"encoding":{"x":{"field":"b0","type":"quantitative","title":null},"x2":{"field":"b1"},"y":{"field":"c","type":"quantitative","title":null},"y2":{"datum":0}}},
{"data":{"name":"band"},"transform":[{"filter":"datum.p==='clu-min'"}],"mark":{"type":"line","color":"#6a5418","strokeWidth":1},"encoding":{"x":{"field":"x","type":"quantitative","title":null},"y":{"field":"m","type":"quantitative","title":null}}}]},
{"title":"clu-max","width":210,"height":104,"layer":[
{"data":{"name":"hist"},"mark":{"type":"rect","fill":"white","strokeWidth":0},"encoding":{"x":{"field":"b0","type":"quantitative","scale":{"domain":[0,3.7],"nice":false},"axis":{"values":[0,1,2,3],"format":"d"},"title":null},"x2":{"field":"b1"},"y":{"field":"c","type":"quantitative","scale":{"domain":[0,29.3],"nice":false},"axis":{"values":[0,10,20],"format":"d"},"title":null},"y2":{"datum":0}}},
{"data":{"name":"band"},"transform":[{"filter":"datum.p==='clu-max'"}],"mark":{"type":"area","color":"#EDB120","opacity":1},"encoding":{"x":{"field":"x","type":"quantitative","title":null},"y":{"field":"lo","type":"quantitative","title":null},"y2":{"field":"hi"}}},
{"data":{"name":"hist"},"mark":{"type":"rect","fill":"white","fillOpacity":0,"stroke":"black","strokeWidth":1.5},"encoding":{"x":{"field":"b0","type":"quantitative","title":null},"x2":{"field":"b1"},"y":{"field":"c","type":"quantitative","title":null},"y2":{"datum":0}}},
{"data":{"name":"band"},"transform":[{"filter":"datum.p==='clu-max'"}],"mark":{"type":"line","color":"#6a5418","strokeWidth":1},"encoding":{"x":{"field":"x","type":"quantitative","title":null},"y":{"field":"m","type":"quantitative","title":null}}}]},
{"title":"clu-prod","width":210,"height":104,"layer":[
{"data":{"name":"hist"},"mark":{"type":"rect","fill":"white","strokeWidth":0},"encoding":{"x":{"field":"b0","type":"quantitative","scale":{"domain":[0,3.7],"nice":false},"axis":{"values":[0,1,2,3],"format":"d"},"title":null},"x2":{"field":"b1"},"y":{"field":"c","type":"quantitative","scale":{"domain":[0,29.3],"nice":false},"axis":{"values":[0,10,20],"format":"d"},"title":null},"y2":{"datum":0}}},
{"data":{"name":"band"},"transform":[{"filter":"datum.p==='clu-prod'"}],"mark":{"type":"area","color":"#EDB120","opacity":1},"encoding":{"x":{"field":"x","type":"quantitative","title":null},"y":{"field":"lo","type":"quantitative","title":null},"y2":{"field":"hi"}}},
{"data":{"name":"hist"},"mark":{"type":"rect","fill":"white","fillOpacity":0,"stroke":"black","strokeWidth":1.5},"encoding":{"x":{"field":"b0","type":"quantitative","title":null},"x2":{"field":"b1"},"y":{"field":"c","type":"quantitative","title":null},"y2":{"datum":0}}},
{"data":{"name":"band"},"transform":[{"filter":"datum.p==='clu-prod'"}],"mark":{"type":"line","color":"#6a5418","strokeWidth":1},"encoding":{"x":{"field":"x","type":"quantitative","title":null},"y":{"field":"m","type":"quantitative","title":null}}}]},
{"title":"clu-diff","width":210,"height":104,"layer":[
{"data":{"name":"hist"},"mark":{"type":"rect","fill":"white","strokeWidth":0},"encoding":{"x":{"field":"b0","type":"quantitative","scale":{"domain":[0,3.7],"nice":false},"axis":{"values":[0,1,2,3],"format":"d"},"title":null},"x2":{"field":"b1"},"y":{"field":"c","type":"quantitative","scale":{"domain":[0,29.3],"nice":false},"axis":{"values":[0,10,20],"format":"d"},"title":null},"y2":{"datum":0}}},
{"data":{"name":"band"},"transform":[{"filter":"datum.p==='clu-diff'"}],"mark":{"type":"area","color":"#EDB120","opacity":1},"encoding":{"x":{"field":"x","type":"quantitative","title":null},"y":{"field":"lo","type":"quantitative","title":null},"y2":{"field":"hi"}}},
{"data":{"name":"hist"},"mark":{"type":"rect","fill":"white","fillOpacity":0,"stroke":"black","strokeWidth":1.5},"encoding":{"x":{"field":"b0","type":"quantitative","title":null},"x2":{"field":"b1"},"y":{"field":"c","type":"quantitative","title":null},"y2":{"datum":0}}},
{"data":{"name":"band"},"transform":[{"filter":"datum.p==='clu-diff'"}],"mark":{"type":"line","color":"#6a5418","strokeWidth":1},"encoding":{"x":{"field":"x","type":"quantitative","title":null},"y":{"field":"m","type":"quantitative","title":null}}}]},
{"title":"matching","width":210,"height":104,"layer":[
{"data":{"name":"hist"},"mark":{"type":"rect","fill":"white","strokeWidth":0},"encoding":{"x":{"field":"b0","type":"quantitative","scale":{"domain":[0,3.7],"nice":false},"axis":{"values":[0,1,2,3],"format":"d"},"title":null},"x2":{"field":"b1"},"y":{"field":"c","type":"quantitative","scale":{"domain":[0,29.3],"nice":false},"axis":{"values":[0,10,20],"format":"d"},"title":null},"y2":{"datum":0}}},
{"data":{"name":"band"},"transform":[{"filter":"datum.p==='matching'"}],"mark":{"type":"area","color":"#EDB120","opacity":1},"encoding":{"x":{"field":"x","type":"quantitative","title":null},"y":{"field":"lo","type":"quantitative","title":null},"y2":{"field":"hi"}}},
{"data":{"name":"hist"},"mark":{"type":"rect","fill":"white","fillOpacity":0,"stroke":"black","strokeWidth":1.5},"encoding":{"x":{"field":"b0","type":"quantitative","title":null},"x2":{"field":"b1"},"y":{"field":"c","type":"quantitative","title":null},"y2":{"datum":0}}},
{"data":{"name":"band"},"transform":[{"filter":"datum.p==='matching'"}],"mark":{"type":"line","color":"#6a5418","strokeWidth":1},"encoding":{"x":{"field":"x","type":"quantitative","title":null},"y":{"field":"m","type":"quantitative","title":null}}}]}
],
"config":{
"view":{"stroke":null},
"font":"Liberation Sans",
"axis":{"domainColor":"#262626","domainWidth":1,"ticks":false,"grid":false,"labelFontSize":12,"labelColor":"#262626","labelFont":"Liberation Sans","labelFlush":false},
"axisX":{"labelPadding":6},
"axisY":{"labelPadding":7},
"title":{"anchor":"start","fontSize":26,"fontWeight":"normal","color":"black","font":"Liberation Sans","offset":-24,"dx":15,"baseline":"alphabetic","frame":"group"}
}
}
